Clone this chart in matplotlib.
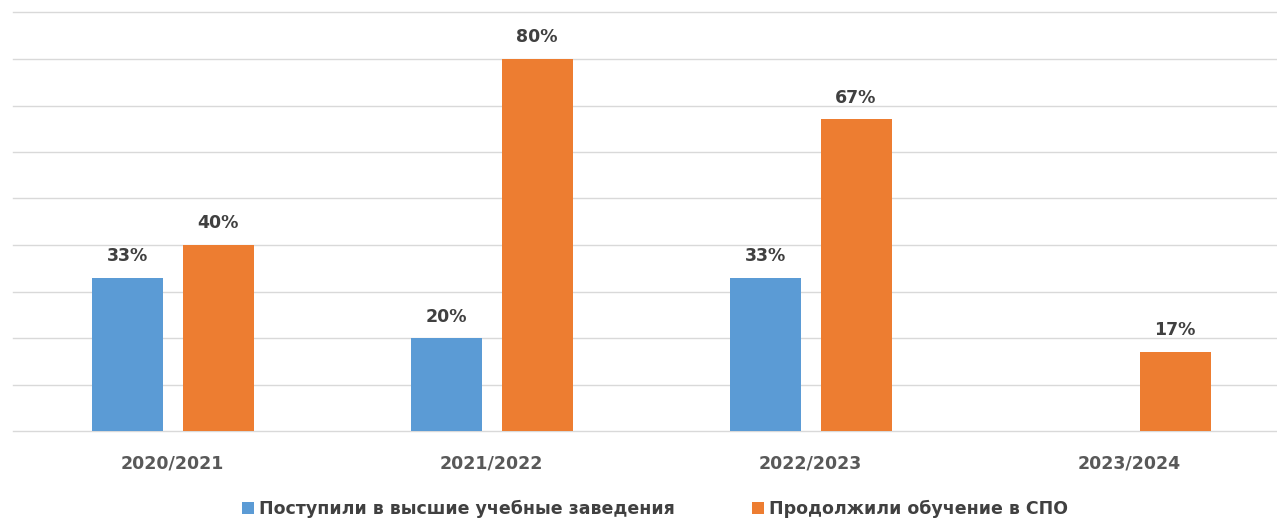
import matplotlib.pyplot as plt
import numpy as np

years = ['2020/2021', '2021/2022', '2022/2023', '2023/2024']
higher_edu = [33, 20, 33, 0]      # Поступили в высшие учебные заведения
spo = [40, 80, 67, 17]            # Продолжили обучение в СПО
series_names = ['Поступили в высшие учебные заведения', 'Продолжили обучение в СПО']

plt.rcParams['font.family'] = ['DejaVu Sans']

W, H = 1277, 519
fig = plt.figure(figsize=(W / 100, H / 100), dpi=100)
# category width is 319 px, axis starts at x=13 and runs past the right edge
ax = fig.add_axes([13 / W, 88 / H, (W - 13) / W, (431 - 12.5) / H])
ax.set_xlim(-0.5, -0.5 + (W - 13) / 319)
ax.set_ylim(0, 90)

x = np.arange(len(years))
bw = 71 / 319
off = 45.5 / 319
b1 = ax.bar(x - off, higher_edu, bw, color='#5B9BD5', label=series_names[0], zorder=3)
b2 = ax.bar(x + off, spo, bw, color='#ED7D31', label=series_names[1], zorder=3)

lbl = dict(fontsize=12.5, fontweight='bold', color='#404040', padding=9)
ax.bar_label(b1, labels=[f'{v}%' if v else '' for v in higher_edu], **lbl)
ax.bar_label(b2, labels=[f'{v}%' for v in spo], **lbl)

ax.set_yticks(np.arange(0, 91, 10))
ax.yaxis.grid(True, color='#D9D9D9', linewidth=1, zorder=0)
for gl in ax.get_ygridlines():
    gl.set_clip_on(False)
ax.tick_params(axis='y', left=False, labelleft=False)
ax.set_xticks(x)
ax.set_xticklabels(years, fontsize=12.5, fontweight='bold', color='#595959')
ax.tick_params(axis='x', length=0, pad=17)
for s in ax.spines.values():
    s.set_visible(False)

fig.legend(handles=[b1, b2], loc='center', bbox_to_anchor=(655 / W, 1 - 509 / H),
           ncol=2, frameon=False, handlelength=0.7, handleheight=0.7,
           handletextpad=0.3, columnspacing=4.4,
           prop={'size': 12.5, 'weight': 'bold'}, labelcolor='#404040')

plt.savefig('out.png', dpi=100)
